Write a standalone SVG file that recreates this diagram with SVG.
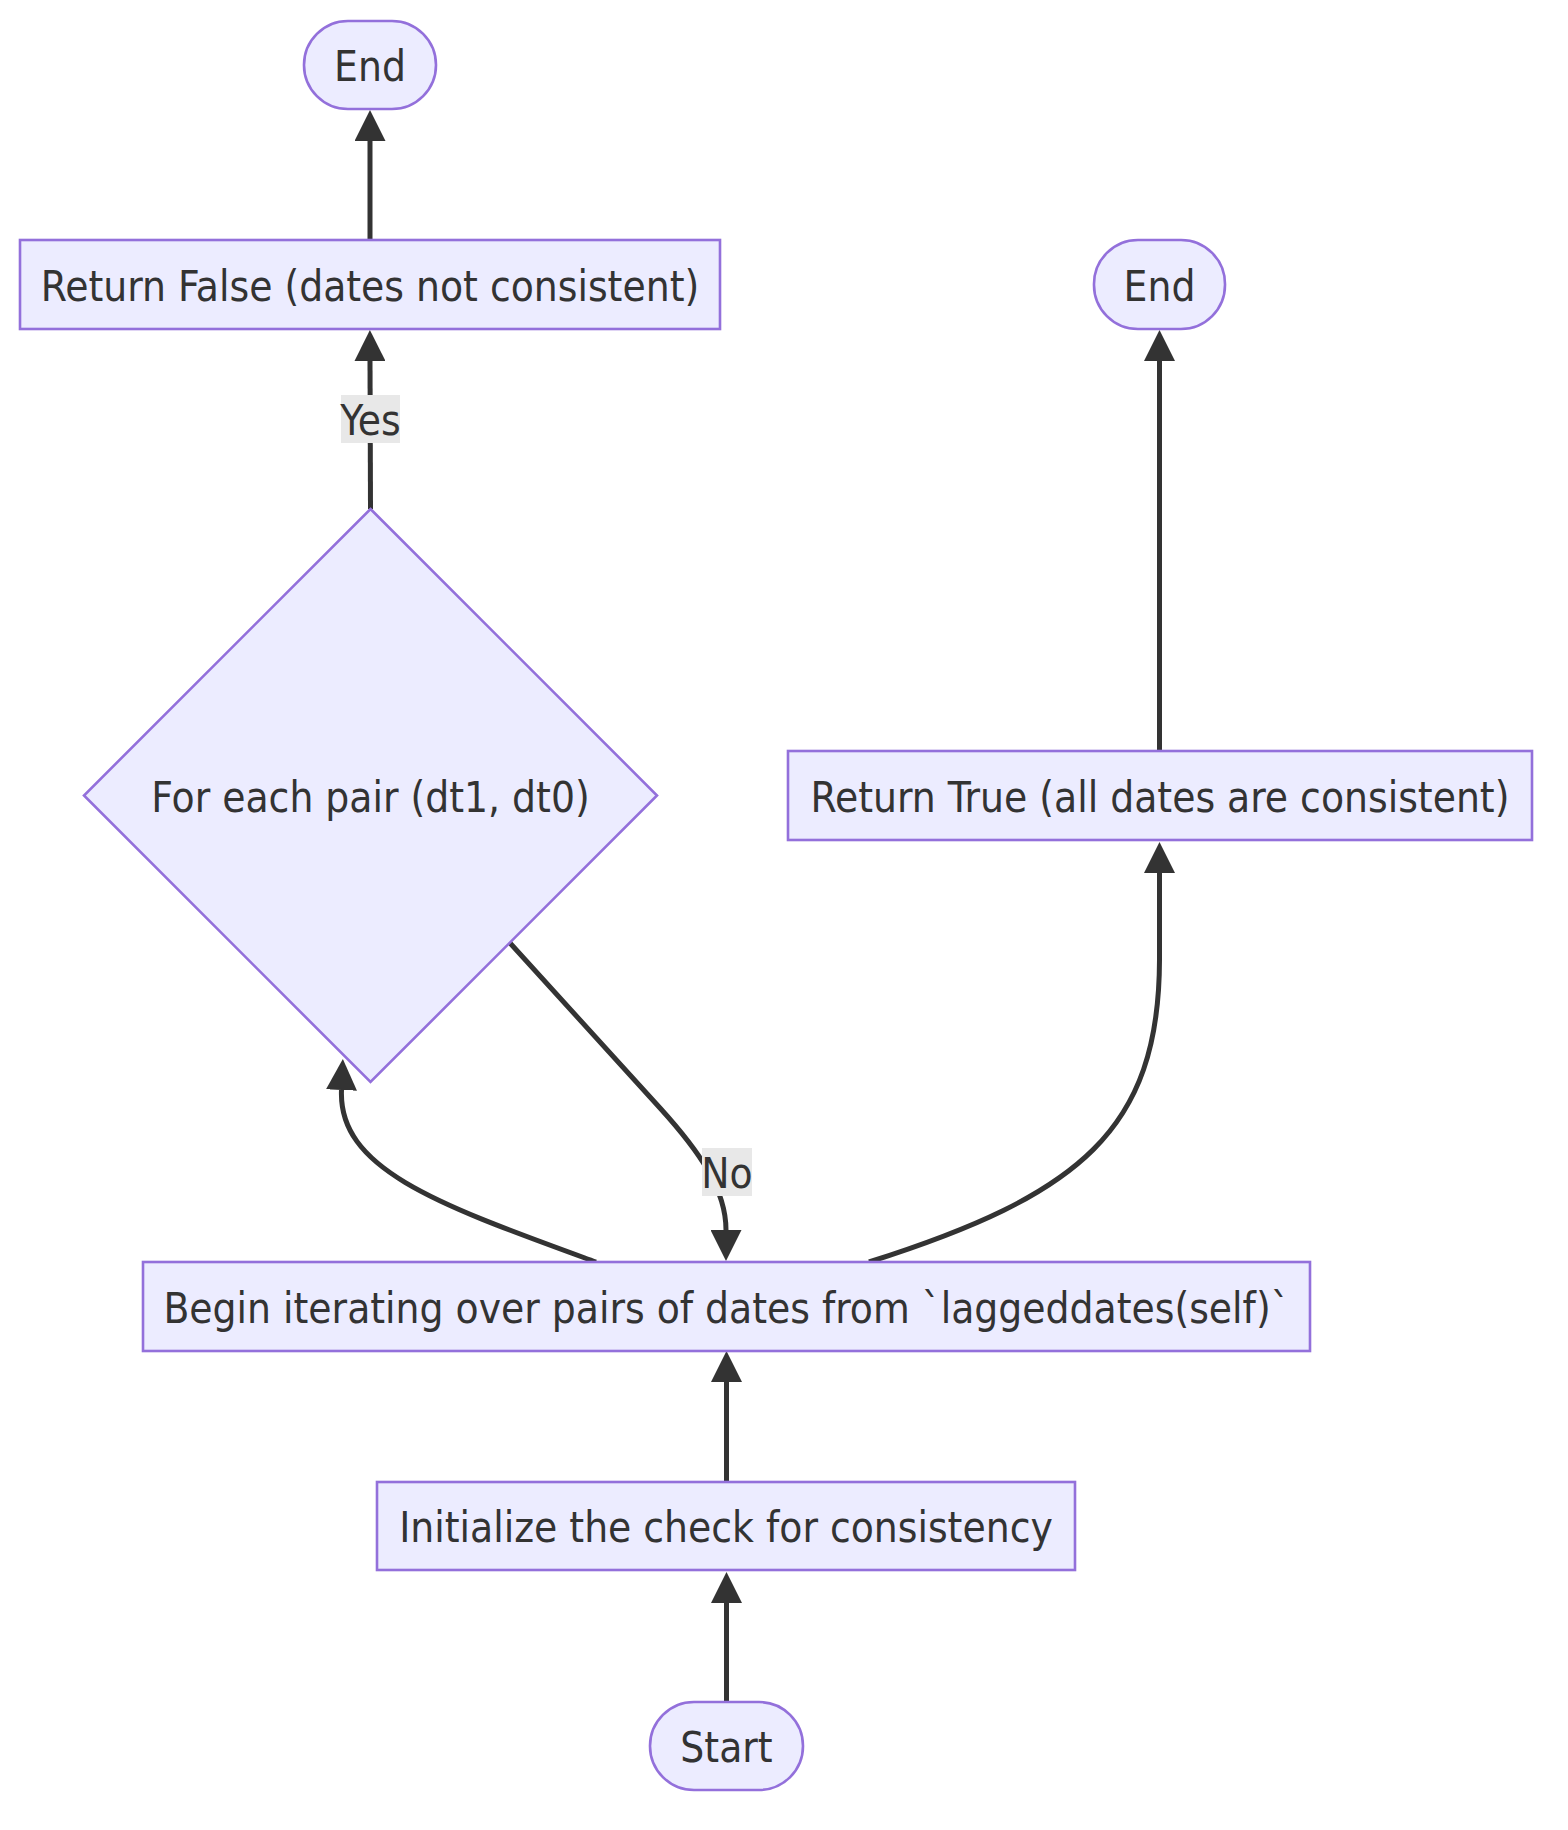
<svg xmlns="http://www.w3.org/2000/svg" width="1568" height="1830" viewBox="0 0 1568 1830">
<style>
.node rect, .node polygon { fill: #ECECFF; stroke: #9370DB; stroke-width: 2.6; }
.label { font-family: "DejaVu Sans Condensed", "DejaVu Sans", sans-serif; font-stretch: condensed; font-size: 42px; fill: #333333; text-anchor: middle; }
.edge { fill: none; stroke: #333333; stroke-width: 5; }
.elbg { fill: #e8e8e8; }
</style>
<defs>
<marker id="arrow" viewBox="0 0 10 10" refX="0" refY="5" markerWidth="31" markerHeight="31" markerUnits="userSpaceOnUse" orient="auto">
<path d="M0,0 L10,5 L0,10 z" fill="#333333"/>
</marker>
</defs>
<rect width="1568" height="1830" fill="#ffffff"/>
<g id="connectors">
<path class="edge" d="M370,240 L370,141" marker-end="url(#arrow)"/>
<path class="edge" d="M370.5,509 L370,361" marker-end="url(#arrow)"/>
<path class="edge" d="M1159.5,751 L1159.5,361" marker-end="url(#arrow)"/>
<path class="edge" d="M596,1262 C440,1205 338,1170 341.5,1090" marker-end="url(#arrow)"/>
<path class="edge" d="M510,943 L660,1108 C700,1152 726,1190 726,1230" marker-end="url(#arrow)"/>
<path class="edge" d="M869,1262 C1080,1195 1159,1130 1159.5,960 L1159.5,873" marker-end="url(#arrow)"/>
<path class="edge" d="M726.5,1482 L726.5,1382" marker-end="url(#arrow)"/>
<path class="edge" d="M726.5,1702 L726.5,1603" marker-end="url(#arrow)"/>
<g id="label-yes">
<rect class="elbg" x="341" y="395" width="59" height="48"/>
<text class="label" x="370.5" y="434.5">Yes</text>
</g>
<g id="label-no">
<rect class="elbg" x="702" y="1148" width="50" height="48"/>
<text class="label" x="727" y="1187.5">No</text>
</g>
</g>
<g id="end1" class="node">
<rect x="304" y="21" width="132" height="88" rx="44" ry="44"/>
<text class="label" x="370" y="80.5">End</text>
</g>
<g id="returnFalse" class="node">
<rect x="20" y="240" width="700" height="89"/>
<text class="label" x="370" y="300.5">Return False (dates not consistent)</text>
</g>
<g id="end2" class="node">
<rect x="1094" y="240" width="131" height="89" rx="44" ry="44"/>
<text class="label" x="1159.5" y="300.5">End</text>
</g>
<g id="decision" class="node">
<polygon points="370.5,509 657,795.5 370.5,1082 84,795.5"/>
<text class="label" x="370.5" y="811.5">For each pair (dt1, dt0)</text>
</g>
<g id="returnTrue" class="node">
<rect x="788" y="751" width="744" height="89"/>
<text class="label" x="1160" y="811.5">Return True (all dates are consistent)</text>
</g>
<g id="begin" class="node">
<rect x="143" y="1262" width="1167" height="89"/>
<text class="label" x="726.5" y="1322.5">Begin iterating over pairs of dates from `laggeddates(self)`</text>
</g>
<g id="init" class="node">
<rect x="377" y="1482" width="698" height="88"/>
<text class="label" x="726" y="1541.5">Initialize the check for consistency</text>
</g>
<g id="start" class="node">
<rect x="650" y="1702" width="153" height="88" rx="44" ry="44"/>
<text class="label" x="726.5" y="1761.5">Start</text>
</g>
</svg>
